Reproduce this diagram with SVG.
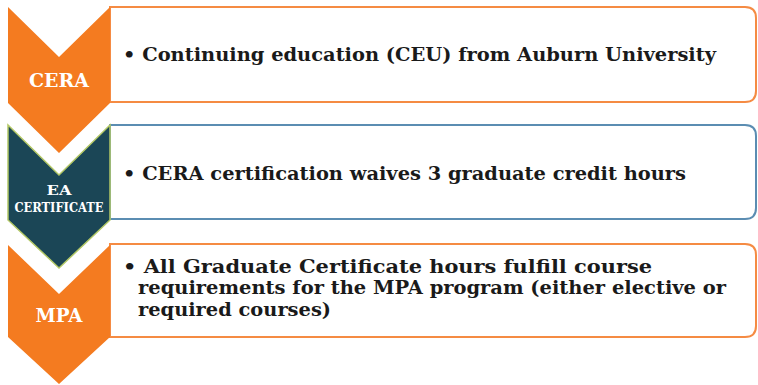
<svg xmlns="http://www.w3.org/2000/svg" width="758" height="385" viewBox="0 0 758 385">
<style>
.box{fill:#fff;stroke-width:2}
.ob{stroke:#F58B43}
.bb{stroke:#5B8DB2}
.chev-o{fill:#F47B20}
.chev-t{fill:#1B4656;stroke:#B3C866;stroke-width:1.5}
.lbl{fill:#fff;font-family:"DejaVu Serif","Liberation Serif",serif;text-anchor:middle;font-weight:bold}
.txt{fill:#1a1a1a;font-family:"DejaVu Serif","Liberation Serif",serif;font-size:19px;font-weight:bold}
</style>
<g id="row1">
<path class="box ob" d="M110 7 H745 Q756 7 756 18 V91 Q756 102 745 102 H110 Z"/>
<polygon class="chev-o" points="8,7 59,57 110,7 110,103 59,153 8,103"/>
<text class="lbl" x="59" y="87" font-size="18" textLength="60" lengthAdjust="spacingAndGlyphs">CERA</text>
<text class="txt" x="123" y="61" textLength="593" lengthAdjust="spacingAndGlyphs">• Continuing education (CEU) from Auburn University</text>
</g>
<g id="row2">
<path class="box bb" d="M110 125 H745 Q756 125 756 136 V208 Q756 219 745 219 H110 Z"/>
<polygon class="chev-t" points="8,125 59,175 110,125 110,220 59,268 8,220"/>
<text class="lbl" x="59" y="195" font-size="12" textLength="25" lengthAdjust="spacingAndGlyphs">EA</text>
<text class="lbl" x="59" y="212" font-size="12" textLength="89" lengthAdjust="spacingAndGlyphs">CERTIFICATE</text>
<text class="txt" x="123" y="180" textLength="563" lengthAdjust="spacingAndGlyphs">• CERA certification waives 3 graduate credit hours</text>
</g>
<g id="row3">
<path class="box ob" d="M110 244 H745 Q756 244 756 255 V326 Q756 337 745 337 H110 Z"/>
<polygon class="chev-o" points="8,245 59,294 110,245 110,337 59,384 8,337"/>
<text class="lbl" x="59" y="322" font-size="18" textLength="47" lengthAdjust="spacingAndGlyphs">MPA</text>
<text class="txt" x="123" y="273" textLength="529" lengthAdjust="spacingAndGlyphs">• All Graduate Certificate hours fulfill course</text>
<text class="txt" x="138" y="294" textLength="588" lengthAdjust="spacingAndGlyphs">requirements for the MPA program (either elective or</text>
<text class="txt" x="138" y="316" textLength="193" lengthAdjust="spacingAndGlyphs">required courses)</text>
</g>
<g id="connectors"></g>
</svg>
